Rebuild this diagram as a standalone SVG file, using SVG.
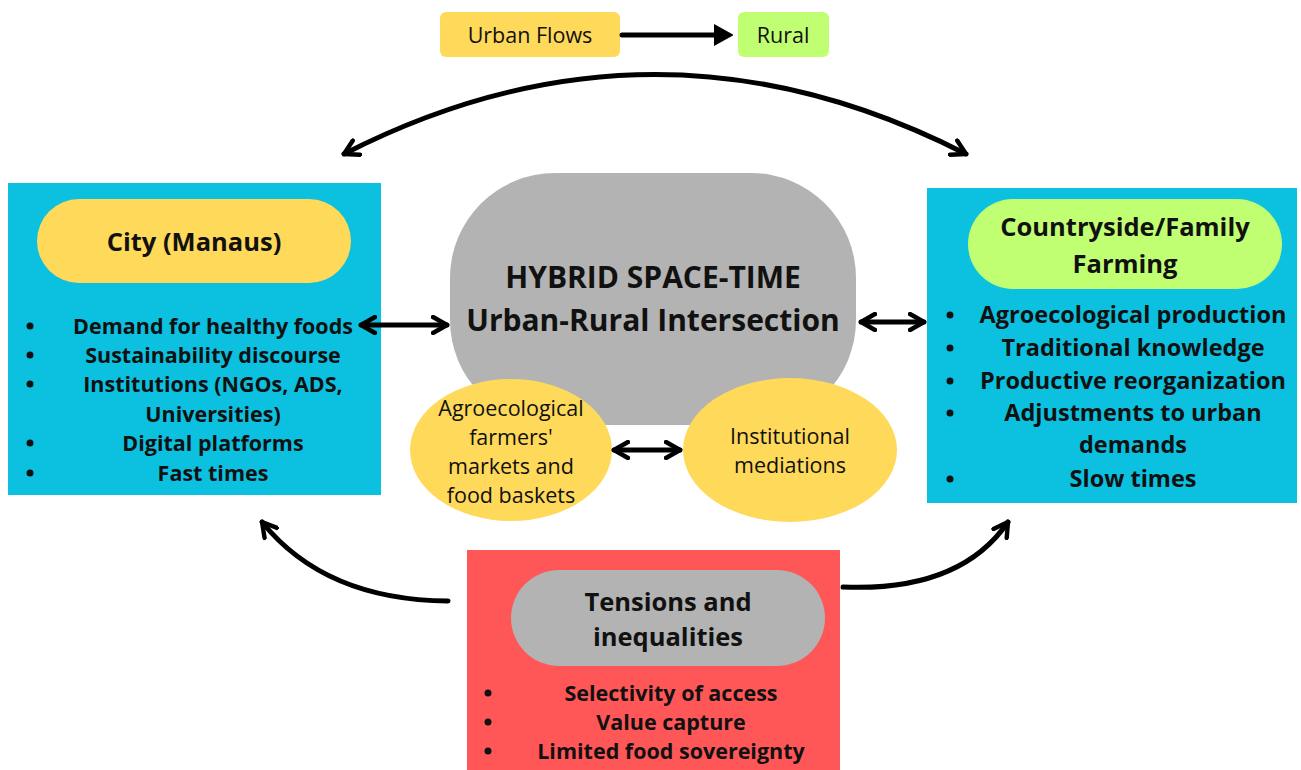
<svg xmlns="http://www.w3.org/2000/svg" width="1301" height="770" viewBox="0 0 1301 770">
<style>
.t{font-family:"Open Sans","Liberation Sans",sans-serif;fill:#111;text-anchor:middle}
.b{font-weight:bold}
.blue{fill:#0cc0df}
.yel{fill:#ffd95a}
.grn{fill:#c1ff72}
.gry{fill:#b3b3b3}
.red{fill:#ff5757}
.con{fill:none;stroke:#000;stroke-width:5;stroke-linecap:round}
</style>
<defs>
<marker id="chev" viewBox="0 0 10 10" refX="8" refY="5" markerWidth="4" markerHeight="4" orient="auto-start-reverse" markerUnits="strokeWidth">
<path d="M1,1 L8,5 L1,9" fill="none" stroke="#000" stroke-width="2.2" stroke-linecap="round" stroke-linejoin="round"/>
</marker>
<marker id="tri" viewBox="0 0 10 10" refX="6" refY="5" markerWidth="4" markerHeight="4.5" orient="auto" markerUnits="strokeWidth">
<path d="M0,0 L9,5 L0,10 Z" fill="#000" stroke="#000" stroke-width="1" stroke-linejoin="round"/>
</marker>
</defs>
<rect width="1301" height="770" fill="#fff"/>

<g id="legend-urban">
<rect x="440" y="12" width="180" height="45" rx="6" class="yel"/>
<text x="530" y="43" class="t" font-size="21.5">Urban Flows</text>
</g>
<g id="legend-rural">
<rect x="738" y="12" width="91" height="45" rx="6" class="grn"/>
<text x="783" y="43" class="t" font-size="21.5">Rural</text>
</g>

<g id="city">
<rect x="8" y="183" width="373" height="312" class="blue"/>
<rect x="37" y="199" width="314" height="84" rx="42" class="yel"/>
<text x="194" y="251" class="t b" font-size="25.5">City (Manaus)</text>
<g class="t b" font-size="21.5">
<text x="213" y="334">Demand for healthy foods</text>
<text x="213" y="363">Sustainability discourse</text>
<text x="213" y="392">Institutions (NGOs, ADS,</text>
<text x="213" y="422">Universities)</text>
<text x="213" y="451">Digital platforms</text>
<text x="213" y="481">Fast times</text>
</g>
<g fill="#111">
<circle cx="30" cy="326" r="3.5"/><circle cx="30" cy="355" r="3.5"/><circle cx="30" cy="384" r="3.5"/><circle cx="30" cy="443" r="3.5"/><circle cx="30" cy="473" r="3.5"/>
</g>
</g>

<g id="countryside">
<rect x="927" y="188" width="370" height="315" class="blue"/>
<rect x="968" y="199" width="314" height="90" rx="45" class="grn"/>
<text x="1125" y="236" class="t b" font-size="25.5">Countryside/Family</text>
<text x="1125" y="273" class="t b" font-size="25.5">Farming</text>
<g class="t b" font-size="23.5">
<text x="1133" y="323">Agroecological production</text>
<text x="1133" y="356">Traditional knowledge</text>
<text x="1133" y="389">Productive reorganization</text>
<text x="1133" y="421">Adjustments to urban</text>
<text x="1133" y="453">demands</text>
<text x="1133" y="487">Slow times</text>
</g>
<g fill="#111">
<circle cx="950" cy="315" r="3.5"/><circle cx="950" cy="348" r="3.5"/><circle cx="950" cy="381" r="3.5"/><circle cx="950" cy="413" r="3.5"/><circle cx="950" cy="479" r="3.5"/>
</g>
</g>

<g id="hybrid">
<rect x="450" y="173" width="406" height="252" rx="105" ry="105" class="gry"/>
<text x="653" y="288" class="t b" font-size="30">HYBRID SPACE-TIME</text>
<text x="653" y="331" class="t b" font-size="30">Urban-Rural Intersection</text>
</g>

<g id="markets">
<ellipse cx="511" cy="450" rx="101" ry="71" class="yel"/>
<g class="t" font-size="21.5">
<text x="511" y="416">Agroecological</text>
<text x="511" y="445">farmers'</text>
<text x="511" y="474">markets and</text>
<text x="511" y="503">food baskets</text>
</g>
</g>

<g id="mediations">
<ellipse cx="790" cy="450" rx="107" ry="72" class="yel"/>
<g class="t" font-size="21.5">
<text x="790" y="444">Institutional</text>
<text x="790" y="473">mediations</text>
</g>
</g>

<g id="tensions">
<rect x="467" y="550" width="373" height="222" class="red"/>
<rect x="511" y="570" width="314" height="96" rx="48" class="gry"/>
<text x="668" y="611" class="t b" font-size="25.5">Tensions and</text>
<text x="668" y="646" class="t b" font-size="25.5">inequalities</text>
<g class="t b" font-size="21.5">
<text x="671" y="701">Selectivity of access</text>
<text x="671" y="730">Value capture</text>
<text x="671" y="759">Limited food sovereignty</text>
</g>
<g fill="#111">
<circle cx="488" cy="693" r="3.5"/><circle cx="488" cy="722" r="3.5"/><circle cx="488" cy="751" r="3.5"/>
</g>
</g>

<g id="connectors">
<path class="con" d="M622 35 L726 35" marker-end="url(#tri)"/>
<path class="con" d="M344 154 Q655 -5 966 154" marker-start="url(#chev)" marker-end="url(#chev)"/>
<path class="con" d="M361 325 L447 325" marker-start="url(#chev)" marker-end="url(#chev)"/>
<path class="con" d="M861 322 L924 322" marker-start="url(#chev)" marker-end="url(#chev)"/>
<path class="con" d="M614 450 L680 450" marker-start="url(#chev)" marker-end="url(#chev)"/>
<path class="con" d="M448 601 Q325 600 262 522" marker-end="url(#chev)"/>
<path class="con" d="M843 587 Q960 592 1008 522" marker-end="url(#chev)"/>
</g>
</svg>
